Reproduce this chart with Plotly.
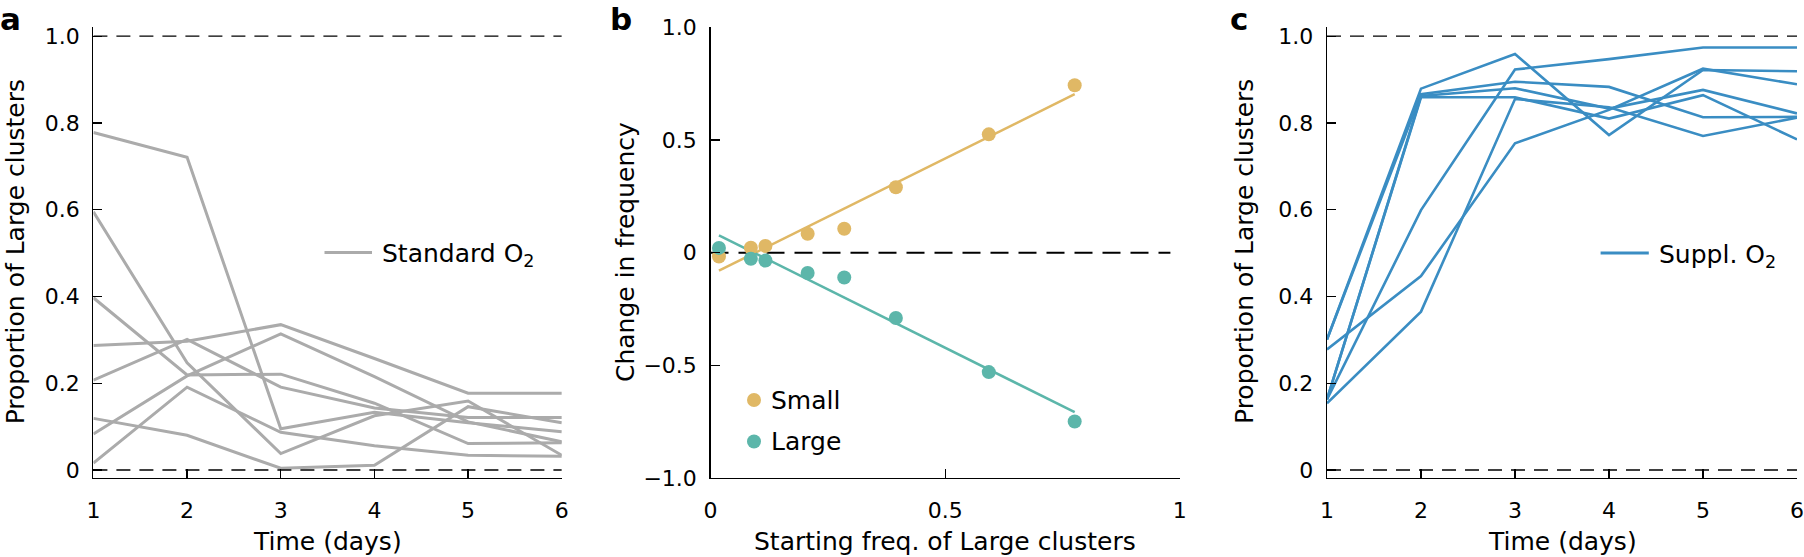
import plotly.graph_objects as go

W, H = 1804, 557

# ---------------- data ----------------
days = [1, 2, 3, 4, 5, 6]

standard_o2 = [
    [0.778, 0.721, 0.095, 0.133, 0.109, 0.088],
    [0.595, 0.247, 0.038, 0.125, 0.159, 0.034],
    [0.397, 0.219, 0.221, 0.154, 0.061, 0.063],
    [0.287, 0.297, 0.335, 0.257, 0.177, 0.177],
    [0.207, 0.301, 0.191, 0.143, 0.121, 0.121],
    [0.119, 0.080, 0.004, 0.011, 0.146, 0.109],
    [0.083, 0.217, 0.314, 0.215, 0.111, 0.065],
    [0.016, 0.191, 0.087, 0.056, 0.034, 0.032],
]

start_freq = [0.018, 0.086, 0.117, 0.207, 0.285, 0.395, 0.593, 0.776]
small_change = [-0.017, 0.022, 0.030, 0.084, 0.106, 0.290, 0.525, 0.743]
large_change = [0.021, -0.027, -0.035, -0.090, -0.110, -0.290, -0.530, -0.749]
fit_x = [0.018, 0.776]
small_fit = [-0.080, 0.703]
large_fit = [0.077, -0.708]

suppl_o2 = [
    [0.301, 0.879, 0.959, 0.772, 0.922, 0.919],
    [0.301, 0.866, 0.895, 0.883, 0.813, 0.814],
    [0.163, 0.862, 0.880, 0.833, 0.876, 0.822],
    [0.278, 0.447, 0.753, 0.830, 0.925, 0.889],
    [0.163, 0.599, 0.923, 0.947, 0.974, 0.974],
    [0.154, 0.365, 0.855, 0.836, 0.770, 0.812],
    [0.163, 0.859, 0.859, 0.810, 0.864, 0.762],
]

prop_ticks = [0, 0.2, 0.4, 0.6, 0.8, 1.0]
prop_ticktext = ["0", "0.2", "0.4", "0.6", "0.8", "1.0"]
chg_ticks = [-1.0, -0.5, 0, 0.5, 1.0]
chg_ticktext = ["\u22121.0", "\u22120.5", "0", "0.5", "1.0"]
freq_ticks = [0, 0.5, 1]
freq_ticktext = ["0", "0.5", "1"]

# ---------------- style ----------------
GRAY = "#ababab"
BLUE = "#3a8dc3"
YELLOW = "#e0b865"
TEAL = "#5cb6aa"
FONT = "DejaVu Sans"
FS_TICK = 22
FS = 25


def px(x):
    return x / W


def py(y):
    return 1 - y / H


fig = go.Figure()

# panel a
for s in standard_o2:
    fig.add_trace(go.Scatter(x=days, y=s, mode="lines", line=dict(color=GRAY, width=3),
                             xaxis="x", yaxis="y", showlegend=False, hoverinfo="skip"))
for lvl in [0, 1]:
    fig.add_trace(go.Scatter(x=[days[0], days[-1]], y=[lvl, lvl], mode="lines",
                             line=dict(color="black", width=1.3, dash="14px,9px"),
                             xaxis="x", yaxis="y", showlegend=False, hoverinfo="skip"))

# panel b
fig.add_trace(go.Scatter(x=[0, 0.98], y=[0, 0], mode="lines",
                         line=dict(color="black", width=2, dash="18px,10px"),
                         xaxis="x2", yaxis="y2", showlegend=False, hoverinfo="skip"))
fig.add_trace(go.Scatter(x=fit_x, y=small_fit, mode="lines", line=dict(color=YELLOW, width=2.5),
                         xaxis="x2", yaxis="y2", showlegend=False, hoverinfo="skip"))
fig.add_trace(go.Scatter(x=fit_x, y=large_fit, mode="lines", line=dict(color=TEAL, width=2.5),
                         xaxis="x2", yaxis="y2", showlegend=False, hoverinfo="skip"))
fig.add_trace(go.Scatter(x=start_freq, y=small_change, mode="markers",
                         marker=dict(color=YELLOW, size=14, line=dict(width=0)), cliponaxis=False,
                         xaxis="x2", yaxis="y2", showlegend=False, hoverinfo="skip"))
fig.add_trace(go.Scatter(x=start_freq, y=large_change, mode="markers",
                         marker=dict(color=TEAL, size=14, line=dict(width=0)), cliponaxis=False,
                         xaxis="x2", yaxis="y2", showlegend=False, hoverinfo="skip"))

# panel c
for s in suppl_o2:
    fig.add_trace(go.Scatter(x=days, y=s, mode="lines", line=dict(color=BLUE, width=2.6),
                             xaxis="x3", yaxis="y3", showlegend=False, hoverinfo="skip"))
for lvl in [0, 1]:
    fig.add_trace(go.Scatter(x=[days[0], days[-1]], y=[lvl, lvl], mode="lines",
                             line=dict(color="black", width=1.3, dash="14px,9px"),
                             xaxis="x3", yaxis="y3", showlegend=False, hoverinfo="skip"))

ydom = [py(478), py(26.6)]
prop_range = [-0.0184, 1.022]

axis_common = dict(showline=True, linecolor="black", linewidth=1.3, ticks="inside",
                   ticklen=9, tickwidth=1.3, tickcolor="black", showgrid=False,
                   zeroline=False, tickfont=dict(family=FONT, size=FS_TICK, color="black"),
                   mirror=False, fixedrange=True, automargin=False)

fig.update_layout(
    template="none",
    width=W, height=H, autosize=False,
    margin=dict(l=0, r=0, t=0, b=0, pad=0, autoexpand=False),
    paper_bgcolor="white", plot_bgcolor="white",
    showlegend=False,
    font=dict(family=FONT, size=FS, color="black"),
    xaxis=dict(domain=[px(93.4), px(561.8)], range=[1, 6], tickvals=days,
               ticktext=[str(d) for d in days], anchor="y", ticklabelstandoff=12, **axis_common),
    yaxis=dict(domain=ydom, range=prop_range, tickvals=prop_ticks, ticktext=prop_ticktext,
               anchor="x", ticklabelstandoff=8, **axis_common),
    xaxis2=dict(domain=[px(710.5), px(1179.8)], range=[0, 1], tickvals=freq_ticks,
                ticktext=freq_ticktext, anchor="y2", ticklabelstandoff=12, **axis_common),
    yaxis2=dict(domain=[py(478), py(27.3)], range=[-1, 1], tickvals=chg_ticks,
                ticktext=chg_ticktext, anchor="x2", ticklabelstandoff=8, **axis_common),
    xaxis3=dict(domain=[px(1327), px(1797)], range=[1, 6], tickvals=days,
                ticktext=[str(d) for d in days], anchor="y3", ticklabelstandoff=12, **axis_common),
    yaxis3=dict(domain=ydom, range=prop_range, tickvals=prop_ticks, ticktext=prop_ticktext,
                anchor="x3", ticklabelstandoff=8, **axis_common),
)

ann = []
shapes = []

# panel letters
for letter, x in [("a", -1), ("b", 609), ("c", 1229)]:
    ann.append(dict(text=f"<b>{letter}</b>", x=px(x), y=1, xref="paper", yref="paper",
                    xanchor="left", yanchor="top", showarrow=False, borderpad=0,
                    font=dict(family=FONT, size=31, color="black")))

# axis titles
for txt, x in [("Proportion of Large clusters", 15.3), ("Change in frequency", 625),
               ("Proportion of Large clusters", 1244)]:
    ann.append(dict(text=txt, x=px(x), y=py(252), xref="paper", yref="paper", textangle=-90,
                    xanchor="center", yanchor="middle", showarrow=False,
                    font=dict(family=FONT, size=FS, color="black")))
for txt, x in [("Time (days)", 327.6), ("Starting freq. of Large clusters", 945),
               ("Time (days)", 1562)]:
    ann.append(dict(text=txt, x=px(x), y=py(541), xref="paper", yref="paper",
                    xanchor="center", yanchor="middle", showarrow=False,
                    font=dict(family=FONT, size=FS, color="black")))

# legend panel a
shapes.append(dict(type="line", xref="paper", yref="paper", x0=px(324.5), x1=px(372),
                   y0=py(252.5), y1=py(252.5), line=dict(color=GRAY, width=3)))
ann.append(dict(text="Standard O<sub>2</sub>", x=px(380), y=py(255), xref="paper", yref="paper",
                xanchor="left", yanchor="middle", showarrow=False,
                font=dict(family=FONT, size=FS, color="black")))
# legend panel c
shapes.append(dict(type="line", xref="paper", yref="paper", x0=px(1600.6), x1=px(1648.8),
                   y0=py(253), y1=py(253), line=dict(color=BLUE, width=3)))
ann.append(dict(text="Suppl. O<sub>2</sub>", x=px(1657), y=py(256), xref="paper", yref="paper",
                xanchor="left", yanchor="middle", showarrow=False,
                font=dict(family=FONT, size=FS, color="black")))
# legend panel b
for lab, col, yy in [("Small", YELLOW, 400), ("Large", TEAL, 441.5)]:
    shapes.append(dict(type="circle", xref="paper", yref="paper", x0=px(754 - 7), x1=px(754 + 7),
                       y0=py(yy + 7), y1=py(yy - 7), fillcolor=col, line=dict(width=0)))
    ann.append(dict(text=lab, x=px(769), y=py(yy), xref="paper", yref="paper",
                    xanchor="left", yanchor="middle", showarrow=False,
                    font=dict(family=FONT, size=FS, color="black")))

fig.update_layout(annotations=ann, shapes=shapes)

fig.write_html("out.html",
               config={"displayModeBar": False, "staticPlot": True},
               post_script="document.body.style.margin='0px';document.body.style.overflow='hidden';")
